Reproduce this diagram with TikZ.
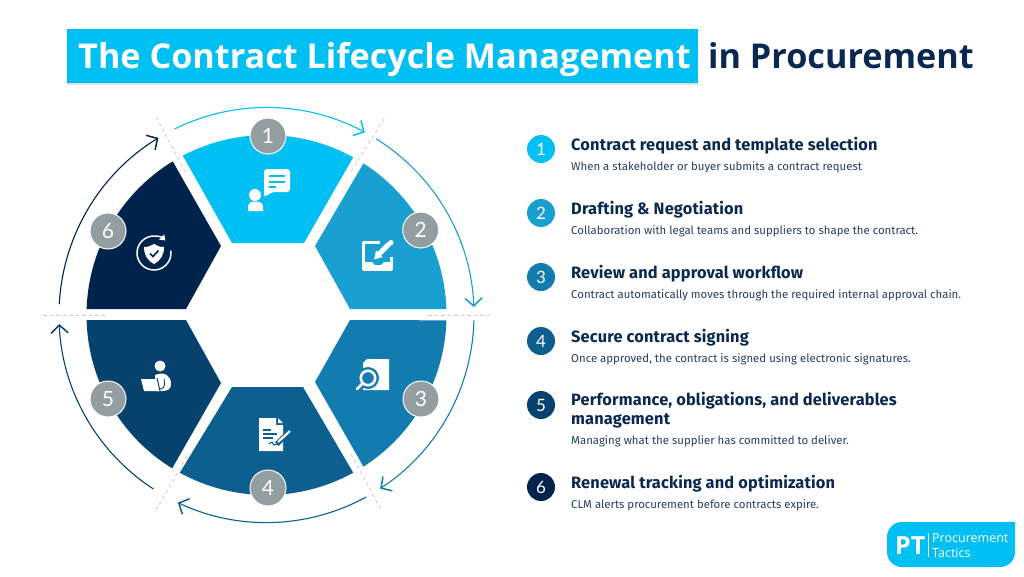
\documentclass[tikz,border=0pt]{standalone}
\usepackage{fontspec}
\usepackage{tikz}
\usetikzlibrary{arrows.meta}
\setmainfont{Open Sans}
\newfontfamily\headfont[LetterSpace=0.9]{Fira Sans}
\newfontfamily\bodyfont{Fira Sans}
\newfontfamily\numfont{Lato}
\definecolor{cOne}{HTML}{00BFF2}
\definecolor{cTwo}{HTML}{199FD0}
\definecolor{cThree}{HTML}{137CAF}
\definecolor{cFour}{HTML}{0C5F8E}
\definecolor{cFive}{HTML}{06426D}
\definecolor{cSix}{HTML}{00234B}
\definecolor{cBadge}{HTML}{939EA3}
\definecolor{cDash}{HTML}{C9CDD0}
\definecolor{cHead}{HTML}{0A2850}
\definecolor{cBody}{HTML}{24405F}
\tikzset{
  badge/.style={circle,fill=cBadge,draw=white,line width=1pt,minimum size=36pt,inner sep=0pt,text=white,font=\numfont\fontsize{21}{21}\selectfont},
  listdot/.style={circle,minimum size=28pt,inner sep=0pt,text=white,font=\numfont\fontsize{17}{17}\selectfont},
  headtext/.style={anchor=base west,inner sep=0pt,text=cHead,font=\headfont\fontsize{16.4}{19}\selectfont\bfseries},
  bodytext/.style={anchor=base west,inner sep=0pt,text=cBody,font=\bodyfont\fontsize{11.4}{14}\selectfont},
  flowarc/.style={line width=1.1pt,-{Straight Barb[length=8pt,width=17pt,line width=1.5pt]}},
  cutline/.style={cDash,line width=.8pt,dash pattern=on 3.5pt off 3pt},
}
\begin{document}
\begin{tikzpicture}[x=1pt,y=-1pt]
  \useasboundingbox (0,0) rectangle (1024,576);
  \coordinate (wheel) at (266.5,315);
  % title
  \fill[black!12] (67,30) rectangle (698,85);
  \fill[cOne] (67,29) rectangle (698,83);
  \node[anchor=base west,inner sep=0pt,text=white,font=\fontsize{34.2}{34}\selectfont\bfseries] (titleA) at (78,68) {The Contract Lifecycle Management};
  \node[anchor=base west,inner sep=0pt,text=cHead,font=\fontsize{34.2}{34}\selectfont\bfseries] (titleB) at (708,68) {in Procurement};
  % the six sectors
  \foreach \col/\ax/\ay/\sa/\ea/\bx/\by in {
      cOne/232/243/-117.7/-61.2/304/243,
      cTwo/315/246/-57.4/-1.9/350/309,
      cThree/350/320/1.7/57.4/315/382,
      cFour/303/387/61.2/118.8/232/387,
      cFive/221/383/121.6/178.4/186/320,
      cSix/186/309/181.9/238.6/221/246}{
    \fill[\col] (\ax,\ay) -- ([shift={(\sa:180)}]wheel) arc[start angle=\sa,end angle=\ea,radius=180] -- (\bx,\by) -- cycle;
  }
  % cuts between sectors
  \draw[cutline] (43,315) -- (107,315);
  \draw[cutline] (428,315) -- (492,315);
  \draw[cutline] (156,117) -- (186,173);
  \draw[cutline] (384,119) -- (350,173);
  \draw[cutline] (156,510) -- (187,456);
  \draw[cutline] (351,454) -- (381,510);
  % arrows round the wheel
  \foreach \col/\sa/\ea in {cOne/243.7/298.3,cTwo/302/357.8,cThree/1.4/56.8,cFour/61.3/115.3,cFive/123/177.5,cSix/183/238.6}{
    \draw[flowarc,\col] ([shift={(\sa:207.5)}]wheel) arc[start angle=\sa,end angle=\ea,radius=207.5];
  }
  % icon 1
  \fill[white] (255,195) circle[radius=6];
  \fill[white] (248,211) -- (248,207) .. controls (248,203) and (251,201.5) .. (255.5,201.5) .. controls (260,201.5) and (263,203) .. (263,207) -- (263,211) -- cycle;
  \fill[white,rounded corners=3pt] (264,169) -- (290,169) -- (290,192) -- (272,192) -- (264,197.5) -- cycle;
  \draw[cOne,line width=1.5pt] (269,176) -- (285,176) (269,182) -- (285,182) (269,187) -- (276,187);
  % icon 2
  \draw[white,line width=3pt,line join=round] (380,242.5) -- (363.5,242.5) -- (363.5,269.5) -- (391.5,269.5) -- (391.5,257);
  \fill[white] (363,262) -- (372,262) -- (375,265) -- (381,265) -- (384,262) -- (392,262) -- (392,270) -- (363,270) -- cycle;
  \draw[white,line width=5pt] (379,254) -- (389,244);
  \draw[white,line width=5pt,line cap=round] (390.5,243) -- (391,242.5);
  \fill[white] (374,259.5) -- (376,250.5) -- (382.5,257) -- cycle;
  % icon 3
  \fill[white] (367,359) -- (389,359) -- (389,390) -- (363,390) -- (363,363) -- cycle;
  \fill[cThree] (368,378) circle[radius=11];
  \draw[cThree,line width=5pt] (362,384) -- (356,390);
  \draw[white,line width=2.6pt] (368,378) circle[radius=7.2];
  \draw[white,line width=2.6pt,line cap=round] (362.5,383.5) -- (357,389);
  % icon 4
  \fill[white] (259,418) -- (276,418) -- (276,425) -- (283,425) -- (283,451) -- (259,451) -- cycle;
  \fill[white] (278,418) -- (283,423) -- (278,423) -- cycle;
  \draw[cFour,line width=1.3pt] (263,430) -- (271,430) (263,434) -- (277,434) (263,438) -- (273,438);
  \draw[cFour,line width=5pt] (292,429) -- (277,444);
  \draw[white,line width=2.2pt] (290,431) -- (278,442);
  \draw[cFour,line width=1pt] (269,444) -- (272,442) -- (274,445) -- (278,444);
  % icon 5
  \fill[white] (160,366) circle[radius=5.5];
  \fill[white] (155,375) .. controls (165,371) and (171,376) .. (171,384) .. controls (171,389) and (168,391) .. (162,391) -- (156,391) -- cycle;
  \fill[white] (141,379) -- (157,379) -- (160,391) -- (144,391) -- cycle;
  \draw[cFive,line width=1pt] (157,378) -- (160,391);
  \draw[cFive,line width=.9pt] (164,379) .. controls (165,384) and (165,389) .. (160,389);
  % icon 6
  \draw[white,line width=1.5pt,-{Triangle[length=5pt,width=7pt]}] (154,253) ++(-8:17) arc[start angle=-8,end angle=312,radius=17];
  \fill[white] (154,244) .. controls (157,246) and (160,247) .. (164,247) .. controls (164,255) and (161,260) .. (154,264) .. controls (147,260) and (144,255) .. (144,247) .. controls (148,247) and (151,246) .. (154,244) -- cycle;
  \draw[cSix,line width=1.6pt] (150,253.5) -- (153,256.5) -- (158.5,250.5);
  % badges on the wheel
  \foreach \n/\x/\y in {1/268/136,2/420.7/230,3/421/399,4/268/488,5/108/399,6/108/231}{
    \node[badge] (badge\n) at (\x,\y) {\n};
  }
  % the list on the right
  \foreach \n/\col/\y in {1/cOne/149,2/cTwo/213,3/cThree/277,4/cFour/341,5/cFive/405,6/cSix/487}{
    \node[listdot,fill=\col] (dot\n) at (541,\y) {\n};
  }
  \node[headtext] (headA) at (571,150) {Contract request and template selection};
  \node[bodytext] (bodyA) at (571,170) {When a stakeholder or buyer submits a contract request};
  \node[headtext] (headB) at (571,214) {Drafting \& Negotiation};
  \node[bodytext] (bodyB) at (571,234) {Collaboration with legal teams and suppliers to shape the contract.};
  \node[headtext] (headC) at (571,278) {Review and approval workflow};
  \node[bodytext] (bodyC) at (571,298) {Contract automatically moves through the required internal approval chain.};
  \node[headtext] (headD) at (571,342) {Secure contract signing};
  \node[bodytext] (bodyD) at (571,362) {Once approved, the contract is signed using electronic signatures.};
  \node[headtext] (headE) at (571,405) {Performance, obligations, and deliverables};
  \node[headtext] (headEE) at (571,424) {management};
  \node[bodytext] (bodyE) at (571,444) {Managing what the supplier has committed to deliver.};
  \node[headtext] (headF) at (571,488) {Renewal tracking and optimization};
  \node[bodytext] (bodyF) at (571,508) {CLM alerts procurement before contracts expire.};
  % logo
  \fill[cOne] (902,522) -- (1015,522) -- (1015,552) arc[start angle=0,end angle=90,radius=15] -- (902,567) arc[start angle=90,end angle=180,radius=15] -- (887,537) arc[start angle=180,end angle=270,radius=15] -- cycle;
  \node[anchor=base west,inner sep=0pt,text=white,font=\fontsize{25}{25}\selectfont\bfseries] (logoPT) at (895,554) {PT};
  \draw[white,line width=.8pt] (928,533) -- (928,557);
  \node[anchor=base west,inner sep=0pt,text=white,font=\fontsize{12.5}{14}\selectfont] (logoA) at (932,542) {Procurement};
  \node[anchor=base west,inner sep=0pt,text=white,font=\fontsize{12.5}{14}\selectfont] (logoB) at (932,557) {Tactics};
\end{tikzpicture}
\end{document}
